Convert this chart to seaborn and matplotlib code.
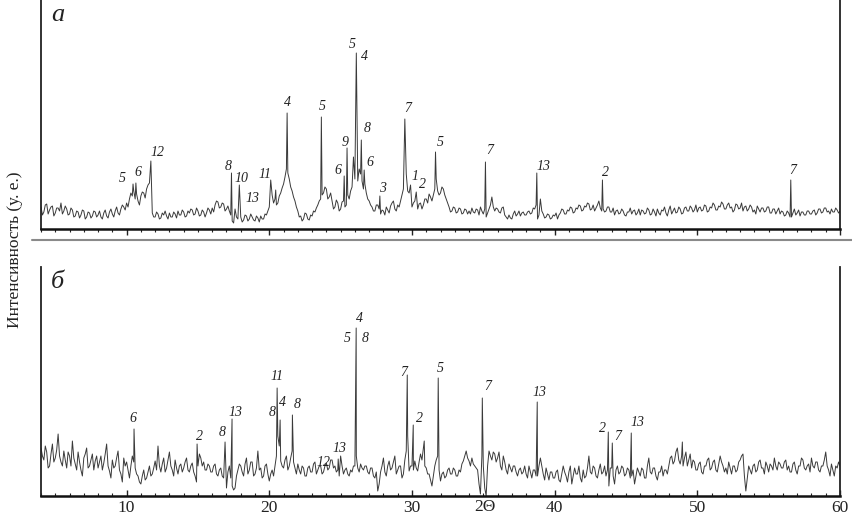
import numpy as np
import pandas as pd
import seaborn as sns
import matplotlib.pyplot as plt
from matplotlib.lines import Line2D
from matplotlib.ticker import MultipleLocator

# 2-theta grid of the background trace (0.1 deg step)
two_theta = np.round(np.linspace(4, 60, 561), 2)

# panel a: background intensity (arb. units), one row = 2 degrees
bg_a = [
    22, 14, 17, 24, 25, 15, 19, 22, 23, 13, 16, 21, 21, 18, 26, 15, 18, 23, 20, 14,
    15, 21, 19, 12, 13, 18, 17, 11, 14, 19, 18, 10, 12, 17, 16, 11, 13, 18, 17, 12,
    14, 18, 12, 10, 16, 19, 13, 11, 17, 20, 15, 12, 18, 22, 16, 14, 20, 24, 22, 19,
    26, 22, 30, 36, 33, 38, 30, 35, 28, 24, 33, 37, 36, 31, 40, 44, 46, 50, 16, 12,
    12, 17, 15, 10, 11, 16, 14, 18, 13, 10, 16, 12, 12, 17, 15, 11, 18, 14, 14, 19,
    17, 12, 13, 18, 16, 20, 19, 14, 15, 21, 18, 13, 14, 19, 17, 12, 16, 21, 19, 15,
    21, 17, 24, 28, 27, 21, 22, 26, 25, 18, 20, 23, 18, 14, 8, 6, 20, 12, 10, 14,
    12, 7, 9, 14, 13, 8, 10, 15, 12, 9, 8, 13, 11, 7, 13, 10, 10, 15, 14, 18,
    22, 28, 34, 26, 30, 24, 26, 33, 36, 41, 45, 52, 60, 56, 50, 42, 38, 32, 28, 22,
    18, 12, 13, 8, 10, 16, 15, 10, 9, 14, 13, 18, 17, 21, 24, 28, 30, 34, 36, 42,
    40, 30, 32, 36, 28, 20, 22, 29, 26, 18, 20, 27, 28, 22, 24, 34, 30, 38, 42, 36,
    50, 46, 48, 60, 55, 48, 40, 45, 36, 30, 28, 24, 22, 18, 18, 24, 24, 20, 15, 19,
    18, 14, 22, 19, 16, 23, 26, 28, 20, 18, 24, 22, 28, 34, 40, 70, 55, 38, 36, 28,
    22, 26, 28, 22, 20, 25, 26, 20, 24, 30, 30, 26, 35, 32, 28, 34, 40, 50, 38, 34,
    36, 42, 40, 34, 30, 26, 22, 17, 18, 22, 21, 16, 17, 21, 20, 15, 16, 20, 19, 15,
    18, 15, 21, 17, 16, 20, 19, 14, 22, 18, 15, 20, 12, 16, 20, 24, 32, 22, 18, 21,
    20, 17, 16, 21, 22, 14, 12, 10, 14, 11, 10, 15, 18, 13, 15, 18, 13, 16, 17, 14,
    14, 17, 18, 15, 16, 21, 20, 24, 10, 14, 30, 18, 15, 11, 12, 15, 14, 10, 11, 14,
    13, 16, 10, 14, 16, 20, 19, 15, 15, 19, 18, 22, 21, 16, 17, 21, 20, 24, 23, 18,
    19, 23, 22, 26, 25, 19, 20, 24, 18, 21, 24, 28, 21, 18, 20, 17, 18, 22, 22, 17,
    17, 21, 14, 18, 19, 15, 16, 20, 18, 14, 13, 17, 17, 21, 15, 18, 19, 14, 16, 20,
    14, 19, 18, 15, 16, 21, 19, 14, 15, 20, 17, 13, 20, 16, 14, 19, 18, 22, 16, 13,
    19, 23, 15, 18, 21, 16, 17, 22, 20, 15, 16, 21, 22, 18, 18, 23, 21, 17, 19, 24,
    17, 21, 22, 18, 19, 24, 23, 17, 18, 22, 21, 26, 24, 19, 19, 23, 22, 27, 25, 20,
    20, 24, 26, 21, 22, 17, 19, 25, 24, 20, 21, 26, 18, 22, 23, 18, 20, 24, 22, 17,
    19, 15, 23, 20, 17, 21, 21, 17, 18, 22, 22, 16, 16, 20, 20, 15, 18, 21, 15, 18,
    17, 13, 14, 18, 16, 12, 12, 16, 20, 14, 16, 19, 13, 17, 17, 14, 14, 18, 18, 15,
    15, 18, 19, 14, 16, 20, 20, 16, 17, 21, 21, 17, 18, 15, 20, 17, 17, 21, 19, 16,
    18,
]
peak_pos_a = [10.45, 10.65, 11.7, 17.35, 17.9, 20.1, 20.45, 21.25, 23.65, 25.25,
              25.45, 25.9, 26.1, 26.45, 26.65, 27.75, 29.5, 29.9, 30.3, 31.65,
              35.15, 38.75, 43.35, 56.55]
peak_h_a = [45, 46, 68, 56, 44, 49, 39, 116, 112, 53,
            81, 72, 176, 89, 59, 33, 110, 44, 37, 77,
            67, 56, 49, 49]
lab_a = ['5', '6', '12', '8', '10', '13', '11', '4', '5', '6', '9', '5', '4',
         '8', '6', '3', '7', '1', '2', '5', '7', '13', '2', '7']
lab_x_a = [9.68, 10.80, 12.20, 17.11, 18.03, 18.80, 19.71, 21.25, 23.71, 24.83,
           25.32, 25.81, 26.65, 26.86, 27.07, 27.91, 29.67, 30.23, 30.72, 31.98,
           35.42, 39.20, 43.55, 56.66]
lab_y_a = [51, 57, 77, 63, 50, 30, 55, 127, 123, 58, 87, 184, 172,
           101, 66, 41, 121, 53, 44, 86, 79, 63, 57, 58]

# panel b
bg_b = [
    48, 40, 36, 50, 44, 28, 30, 42, 52, 34, 38, 46, 62, 40, 34, 30, 45, 36, 28, 44,
    40, 30, 55, 38, 32, 26, 44, 34, 26, 20, 38, 42, 48, 28, 30, 36, 42, 26, 35, 40,
    28, 34, 40, 26, 33, 42, 52, 30, 25, 18, 36, 28, 30, 38, 45, 26, 22, 14, 38, 30,
    34, 26, 18, 30, 40, 34, 28, 22, 20, 14, 12, 20, 26, 16, 18, 24, 30, 20, 22, 28,
    35, 26, 50, 30, 24, 32, 38, 24, 28, 36, 44, 30, 26, 20, 36, 28, 22, 30, 32, 24,
    28, 34, 38, 26, 24, 30, 33, 24, 20, 14, 30, 42, 38, 30, 34, 26, 26, 32, 30, 24,
    24, 30, 32, 22, 20, 26, 28, 20, 18, 22, 8, 24, 30, 18, 10, 6, 8, 20, 26, 32,
    30, 24, 20, 32, 38, 22, 26, 34, 34, 20, 22, 28, 45, 26, 28, 18, 20, 30, 32, 22,
    15, 22, 26, 20, 30, 40, 60, 50, 35, 30, 28, 36, 40, 26, 30, 38, 45, 34, 28, 22,
    32, 26, 22, 30, 28, 20, 20, 28, 30, 24, 24, 32, 34, 22, 26, 30, 30, 22, 24, 30,
    33, 26, 28, 36, 36, 28, 30, 24, 26, 20, 40, 30, 22, 26, 28, 22, 20, 26, 24, 30,
    30, 40, 28, 24, 32, 28, 26, 30, 30, 24, 22, 28, 28, 20, 18, 24, 5, 12, 24, 30,
    38, 24, 20, 30, 35, 26, 28, 34, 40, 22, 26, 30, 30, 18, 22, 36, 45, 60, 25, 30,
    30, 26, 35, 28, 25, 34, 42, 36, 48, 30, 28, 22, 22, 16, 10, 20, 30, 36, 40, 26,
    15, 22, 24, 18, 20, 26, 28, 22, 22, 28, 26, 20, 20, 26, 24, 32, 35, 40, 45, 38,
    35, 30, 38, 32, 30, 28, 26, 12, 2, 40, 30, 8, 0, 30, 45, 40, 36, 44, 42, 34,
    38, 44, 30, 26, 40, 34, 26, 22, 32, 28, 24, 30, 30, 24, 20, 26, 28, 22, 24, 30,
    22, 18, 30, 24, 18, 26, 26, 20, 20, 30, 38, 30, 22, 16, 28, 22, 16, 24, 24, 18,
    18, 24, 26, 16, 14, 22, 30, 24, 20, 14, 24, 30, 12, 20, 28, 22, 22, 30, 18, 14,
    26, 18, 20, 28, 40, 24, 22, 30, 28, 20, 18, 26, 32, 22, 24, 30, 20, 26, 10, 28,
    28, 20, 12, 26, 30, 22, 24, 30, 28, 20, 22, 28, 26, 18, 20, 26, 12, 20, 28, 24,
    20, 28, 26, 18, 18, 30, 38, 24, 22, 28, 28, 20, 16, 24, 24, 30, 20, 26, 26, 22,
    30, 38, 40, 32, 35, 44, 48, 36, 32, 40, 30, 38, 44, 30, 36, 42, 28, 36, 34, 26,
    26, 32, 34, 24, 22, 30, 30, 36, 38, 26, 28, 34, 36, 26, 24, 32, 40, 34, 30, 24,
    28, 22, 34, 28, 22, 30, 30, 24, 26, 34, 36, 40, 42, 20, 5, 18, 30, 26, 22, 30,
    32, 24, 26, 34, 36, 28, 28, 22, 34, 30, 24, 32, 30, 26, 38, 30, 26, 34, 32, 28,
    28, 34, 36, 26, 30, 24, 24, 32, 34, 26, 22, 30, 30, 38, 36, 28, 26, 30, 32, 24,
    38, 30, 28, 34, 34, 26, 24, 30, 30, 36, 44, 30, 26, 20, 32, 26, 20, 30, 28, 34,
    30,
]
peak_pos_b = [10.52, 14.94, 16.9, 17.39, 20.55, 20.76, 21.62, 24.83, 26.09, 29.67,
              30.09, 30.86, 31.84, 34.93, 38.78, 43.76, 44.04, 45.37, 48.95]
peak_h_b = [67, 52, 54, 77, 108, 76, 81, 37, 168, 121,
            71, 55, 118, 98, 94, 64, 53, 63, 54]
lab_b = ['6', '2', '8', '13', '11', '8', '4', '8', '12', '13', '4', '5', '8',
         '7', '2', '5', '7', '13', '2', '7', '13']
lab_x_b = [10.45, 15.08, 16.69, 17.60, 20.55, 20.20, 20.90, 21.95, 23.78, 24.90,
           26.30, 25.46, 26.72, 29.39, 30.51, 31.98, 35.28, 38.92, 43.34, 44.39, 45.80]
lab_y_b = [78, 60, 64, 84, 119, 84, 94, 92, 34, 47, 178, 158, 157,
           123, 77, 128, 109, 103, 68, 59, 73]


def trace(bg, pos, h):
    df = pd.DataFrame({'tt': np.concatenate([two_theta, pos]),
                       'I': np.concatenate([bg, h])})
    return df.groupby('tt', as_index=False)['I'].max()


sns.set_theme(style='white')
plt.rcParams['font.family'] = ['Liberation Serif', 'DejaVu Serif']

fig = plt.figure(figsize=(8.52, 5.23), dpi=100)
ax_a = fig.add_axes([41 / 852, 1 - 229 / 523, 799 / 852, 229 / 523])
ax_b = fig.add_axes([41 / 852, 1 - 496 / 523, 799 / 852, 229 / 523])

panels = [(ax_a, bg_a, peak_pos_a, peak_h_a, lab_a, lab_x_a, lab_y_a, 'а', 'out'),
          (ax_b, bg_b, peak_pos_b, peak_h_b, lab_b, lab_x_b, lab_y_b, 'б', 'in')]

for ax, bg, pos, h, labs, lx, ly, name, tdir in panels:
    df = trace(bg, pos, h)
    sns.lineplot(data=df, x='tt', y='I', ax=ax, color='#3a3a3a', linewidth=0.7,
                 estimator=None)
    for t, x, y in zip(labs, lx, ly):
        ax.text(x, y, t, ha='center', va='center', fontsize=10, style='italic',
                color='#222222')
    ax.text(0.021, 0.934, name, transform=ax.transAxes, ha='center', va='center',
            fontsize=19, style='italic', color='#222222')
    ax.set_xlim(4, 60)
    ax.set_ylim(0, 229)
    ax.set_xlabel('')
    ax.set_ylabel('')
    ax.set_yticks([])
    ax.xaxis.set_major_locator(MultipleLocator(10))
    ax.xaxis.set_minor_locator(MultipleLocator(1))
    ax.tick_params(axis='x', which='both', direction=tdir, bottom=True,
                   colors='#222222', labelsize=12.5, pad=3)
    ax.tick_params(axis='x', which='major', length=4, width=1)
    ax.tick_params(axis='x', which='minor', length=2.5, width=0.8)
    ax.spines['top'].set_visible(False)
    for s in ['left', 'right']:
        ax.spines[s].set_color('#222222')
        ax.spines[s].set_linewidth(1.3)
    ax.spines['bottom'].set_color('#111111')
    ax.spines['bottom'].set_linewidth(1.8)

ax_a.tick_params(axis='x', labelbottom=False)
ax_b.text(0.556, -0.05, '2Θ', transform=ax_b.transAxes, ha='center', va='center',
          fontsize=12.5, color='#222222')

fig.add_artist(Line2D([32 / 852, 1.0], [1 - 240 / 523, 1 - 240 / 523],
                      color='#8a8a8a', linewidth=1.5))
fig.text(15 / 852, 1 - 250 / 523, 'Интенсивность (у. е.)', rotation=90,
         ha='center', va='center', fontsize=12.5, color='#222222')

fig.savefig('out.png', dpi=100)
